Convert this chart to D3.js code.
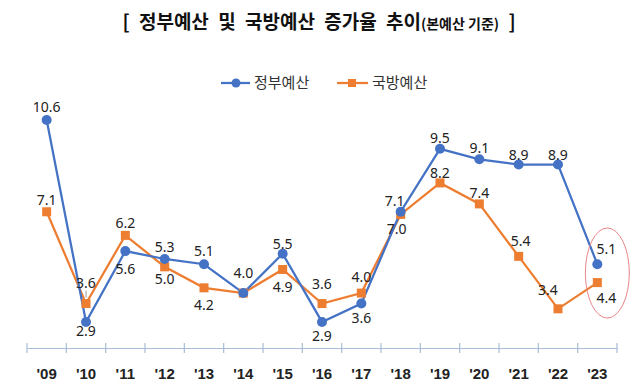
<!DOCTYPE html>
<html>
<head>
<meta charset="utf-8">
<script src="https://cdn.jsdelivr.net/npm/d3@7"></script>
<style>
  body { margin: 0; background: #fff; }
  svg { display: block; }
</style>
</head>
<body>
<svg id="chart" width="635" height="387"></svg>
<script>
// 연도, 증가율(%)
var years = ["'09","'10","'11","'12","'13","'14","'15","'16","'17","'18","'19","'20","'21","'22","'23"];
var govBudget = [10.6, 2.9, 5.6, 5.3, 5.1, 4.0, 5.5, 2.9, 3.6, 7.1, 9.5, 9.1, 8.9, 8.9, 5.1];
var defBudget = [7.1, 3.6, 6.2, 5.0, 4.2, 4.0, 4.9, 3.6, 4.0, 7.0, 8.2, 7.4, 5.4, 3.4, 4.4];
var seriesNames = ["정부예산", "국방예산"];

// 라벨 위치 (점 기준 dx, dy) - null 이면 라벨 없음
var govLabelOff = [[0,-13],[0,9],[0,18],[0,-12],[0,-13],[0,-20],[0,-10],[0,14],[0,14],[-6,-11],[0,-11],[0,-11],[0,-10],[0,-10],[9,-15]];
var defLabelOff = [[0,-12],[0,-21],[0,-12],[0,12],[0,17],null,[0,17],[0,-20],[0,-16],[-4,15],[0,-10],[0,-11],[2,-15],[-10,-19],[9,15]];

var blue = "#4472C4", orange = "#ED7D31";
var svg = d3.select("#chart");

var x = d3.scaleBand().domain(years).range([27, 617]);
var y = d3.scaleLinear().domain([0, 11]).range([398, 398 - 11 * 26.23]);
var cx = function(i){ return x(years[i]) + x.bandwidth() / 2; };

// 제목
var title = svg.append("text")
  .attr("x", 319).attr("y", 29)
  .attr("text-anchor", "middle")
  .attr("font-family", "'Noto Sans CJK KR', sans-serif")
  .attr("font-weight", "bold")
  .attr("fill", "#111");
title.append("tspan").attr("font-size", 19).attr("word-spacing", 5).text("[ 정부예산 및 국방예산 증가율 추이");
title.append("tspan").attr("font-size", 14).text("(본예산 기준)");
title.append("tspan").attr("font-size", 19).attr("word-spacing", 5).text(" ]");

// 범례
var leg = svg.append("g").attr("font-family", "'Noto Sans CJK KR', sans-serif").attr("font-size", 15).attr("fill", "#333");
leg.append("line").attr("x1", 221).attr("x2", 250).attr("y1", 83).attr("y2", 83).attr("stroke", blue).attr("stroke-width", 2.25);
leg.append("circle").attr("cx", 236).attr("cy", 83).attr("r", 4.5).attr("fill", blue);
leg.append("text").attr("x", 254).attr("y", 83).attr("dy", "0.36em").text(seriesNames[0]);
leg.append("line").attr("x1", 337).attr("x2", 368).attr("y1", 83).attr("y2", 83).attr("stroke", orange).attr("stroke-width", 2.25);
leg.append("rect").attr("x", 348).attr("y", 79).attr("width", 8).attr("height", 8).attr("fill", orange);
leg.append("text").attr("x", 372).attr("y", 83).attr("dy", "0.36em").text(seriesNames[1]);

// x축
var axisY = 348;
var axis = svg.append("g").attr("transform", "translate(0," + axisY + ")")
  .call(d3.axisBottom(x).tickSize(0).tickPadding(20));
axis.select(".domain").attr("stroke", "#A8BDD8").attr("stroke-width", 1.2);
axis.selectAll(".tick text")
  .attr("font-family", "'Liberation Sans', Arial, sans-serif")
  .attr("font-weight", "bold").attr("font-size", 15).attr("fill", "#222");
var bounds = years.map(function(d){ return x(d); }).concat([x.range()[1]]);
axis.selectAll(".bound").data(bounds).enter().append("line")
  .attr("x1", function(d){ return d; }).attr("x2", function(d){ return d; })
  .attr("y1", -5).attr("y2", 5).attr("stroke", "#A8BDD8").attr("stroke-width", 1.2);

// 선
var line = d3.line().x(function(d, i){ return cx(i); }).y(function(d){ return y(d); });
svg.append("path").datum(defBudget).attr("d", line).attr("fill", "none").attr("stroke", orange).attr("stroke-width", 2.25);
svg.append("path").datum(govBudget).attr("d", line).attr("fill", "none").attr("stroke", blue).attr("stroke-width", 2.25);

svg.selectAll(".sq").data(defBudget).enter().append("rect")
  .attr("x", function(d, i){ return cx(i) - 4.5; }).attr("y", function(d){ return y(d) - 4.5; })
  .attr("width", 9).attr("height", 9).attr("fill", orange);
svg.selectAll(".dot").data(govBudget).enter().append("circle")
  .attr("cx", function(d, i){ return cx(i); }).attr("cy", function(d){ return y(d); })
  .attr("r", 5).attr("fill", blue);

// 데이터 라벨
[[govBudget, govLabelOff], [defBudget, defLabelOff]].forEach(function(s){
  var g = svg.append("g").attr("font-family", "'Noto Sans', sans-serif").attr("font-size", 14).attr("fill", "#222").attr("text-anchor", "middle");
  s[0].forEach(function(v, i){
    var o = s[1][i];
    if (!o) return;
    g.append("text").attr("x", cx(i) + o[0]).attr("y", y(v) + o[1]).attr("dy", "0.36em").text(v.toFixed(1));
  });
});

// '10 국방예산 라벨 지시선
svg.append("line").attr("x1", cx(1)).attr("x2", cx(1)).attr("y1", y(defBudget[1]) - 13).attr("y2", y(defBudget[1]) - 6)
  .attr("stroke", "#999").attr("stroke-width", 1);

// '23 강조 타원
svg.append("ellipse").attr("cx", cx(14) + 10).attr("cy", 273).attr("rx", 22).attr("ry", 45)
  .attr("fill", "none").attr("stroke", "#E8868B").attr("stroke-width", 1);
</script>
</body>
</html>
